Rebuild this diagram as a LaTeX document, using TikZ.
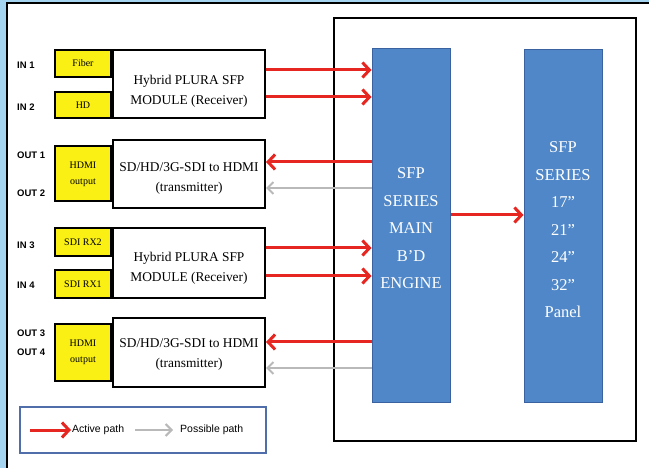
\documentclass[tikz,border=0pt]{standalone}
\usepackage{fontspec}
\setmainfont{Liberation Serif}
\setsansfont{Liberation Sans}
\usetikzlibrary{arrows.meta,positioning}
\definecolor{pathred}{RGB}{230,38,32}
\definecolor{pathgray}{RGB}{185,185,185}
\definecolor{barblue}{RGB}{79,135,200}
\definecolor{baredge}{RGB}{58,98,160}
\definecolor{portyellow}{RGB}{250,240,20}
\definecolor{legendedge}{RGB}{80,110,170}
\definecolor{skyblue}{RGB}{165,212,240}
\tikzset{
modbox/.style={
  draw=black,
  line width=2pt,
  fill=white,
  align=center,
  font=\fontsize{13.4}{20}\selectfont,
  minimum width=152pt,
  text height=36pt,
  text depth=0pt,
  inner sep=0pt
},
portbox/.style={
  draw=black,
  line width=2pt,
  fill=portyellow,
  align=center,
  font=\fontsize{10}{16}\selectfont,
  minimum width=56pt,
  inner sep=0pt
},
enginebar/.style={
  draw=baredge,
  line width=1pt,
  fill=barblue,
  text=white,
  align=center,
  font=\fontsize{16.5}{27.5}\selectfont,
  minimum width=78pt,
  text depth=0pt,
  inner sep=0pt
},
portlabel/.style={
  anchor=west,
  inner sep=0pt,
  font=\sffamily\bfseries\fontsize{9.5}{11}\selectfont
},
activearrow/.style={
  -{Straight Barb[length=7pt,width=15pt]},
  line width=3pt,
  draw=pathred
},
possiblearrow/.style={
  -{Straight Barb[length=6pt,width=12pt]},
  line width=2pt,
  draw=pathgray
}
}

\begin{document}
\begin{tikzpicture}[x=1pt,y=-1pt]
\useasboundingbox (0,0) rectangle (649,468);

% page edge
\fill[skyblue] (0,0) rectangle (6,468);
\fill[skyblue] (0,0) rectangle (649,2);
\draw[line width=2pt] (7,468) -- (7,3) -- (649,3);

% receiver and transmitter modules
\node[modbox, minimum height=68pt, text height=41pt] (mod1) at (189,84) {Hybrid PLURA SFP\\MODULE (Receiver)};
\node[portbox, minimum height=27pt, anchor=north east] (fiber) at (mod1.north west) {Fiber};
\node[portbox, minimum height=26pt, anchor=south east] (hd) at (mod1.south west) {HD};

\node[modbox, minimum height=68pt] (tx1) at (189,174) {SD/HD/3G-SDI to HDMI\\(transmitter)};
\node[portbox, minimum height=55pt, left=0pt of tx1] (hdmi1) {HDMI\\output};

\node[modbox, minimum height=70pt, text height=37pt] (mod2) at (189,263) {Hybrid PLURA SFP\\MODULE (Receiver)};
\node[portbox, minimum height=28pt, anchor=north east] (rx2) at (mod2.north west) {SDI RX2};
\node[portbox, minimum height=28pt, anchor=south east] (rx1) at (mod2.south west) {SDI RX1};

\node[modbox, minimum height=69pt, text height=30pt] (tx2) at (189,352.5) {SD/HD/3G-SDI to HDMI\\(transmitter)};
\node[portbox, minimum height=57pt, left=0pt of tx2] (hdmi2) {HDMI\\output};

% port labels
\node[portlabel] (in1) at (17,65) {IN 1};
\node[portlabel] (in2) at (17,107) {IN 2};
\node[portlabel] (out1) at (17,155) {OUT 1};
\node[portlabel] (out2) at (17,193) {OUT 2};
\node[portlabel] (in3) at (17,245) {IN 3};
\node[portlabel] (in4) at (17,285) {IN 4};
\node[portlabel] (out3) at (17,333) {OUT 3};
\node[portlabel] (out4) at (17,352) {OUT 4};

% main board and panel
\node[draw=black, line width=2pt, minimum width=302pt, minimum height=423pt, inner sep=0pt] (frame) at (485,229.5) {};
\node[enginebar, minimum height=353pt, text height=126pt] (engine) at (411,225.5) {SFP\\SERIES\\MAIN\\B’D\\ENGINE};
\node[enginebar, minimum height=352pt, text height=183pt] (panel) at (563,226) {SFP\\SERIES\\17''\\21''\\24''\\32''\\Panel};

\draw[activearrow] ([yshift=14pt]mod1.east) -- ([yshift=14pt]mod1.east -| engine.west);
\draw[activearrow] ([yshift=-13pt]mod1.east) -- ([yshift=-13pt]mod1.east -| engine.west);
\draw[activearrow] ([yshift=12pt]tx1.east -| engine.west) -- ([yshift=12pt]tx1.east);
\draw[possiblearrow] ([yshift=-14pt]tx1.east -| engine.west) -- ([yshift=-14pt]tx1.east);
\draw[activearrow] ([yshift=15pt]mod2.east) -- ([yshift=15pt]mod2.east -| engine.west);
\draw[activearrow] ([yshift=-13pt]mod2.east) -- ([yshift=-13pt]mod2.east -| engine.west);
\draw[activearrow] ([yshift=10.5pt]tx2.east -| engine.west) -- ([yshift=10.5pt]tx2.east);
\draw[possiblearrow] ([yshift=-15.5pt]tx2.east -| engine.west) -- ([yshift=-15.5pt]tx2.east);
\draw[activearrow] ([yshift=10.5pt]engine.east) -- ([yshift=10.5pt]engine.east -| panel.west);

% legend
\node[draw=legendedge, line width=1.5pt, minimum width=246pt, minimum height=46pt, inner sep=0pt] (legend) at (143,430) {};
\coordinate (activestart) at (30,430);
\node[anchor=west, inner sep=1pt, font=\sffamily\fontsize{10.5}{12}\selectfont] (activetxt) at (71,430) {Active path};
\coordinate (possiblestart) at (135,430);
\node[anchor=west, inner sep=1pt, font=\sffamily\fontsize{10.5}{12}\selectfont] (possibletxt) at (179,430) {Possible path};
\draw[activearrow] (activestart) -- (activetxt.west);
\draw[possiblearrow, shorten >=6pt] (possiblestart) -- (possibletxt.west);

\end{tikzpicture}
\end{document}
